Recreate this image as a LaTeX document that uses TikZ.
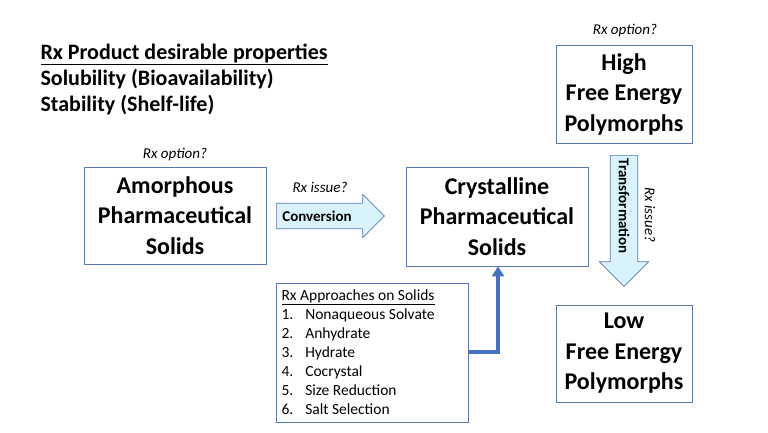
\documentclass[tikz,border=0pt]{standalone}
\usepackage{fontspec}
\setmainfont{Carlito}
\usetikzlibrary{shapes.arrows,arrows.meta}
\definecolor{bl}{RGB}{68,114,196}
\definecolor{bord}{RGB}{90,120,180}
\begin{document}
\begin{tikzpicture}[x=1pt,y=-1pt,
 box/.style={draw=bord,line width=0.8pt,align=center,font=\bfseries\fontsize{24}{30.5}\selectfont,inner sep=0pt},
 note/.style={font=\itshape\fontsize{15}{17}\selectfont},
 fat/.style={shape=single arrow,draw=bord,fill=cyan!15,line width=0.7pt,single arrow head extend=9pt,inner xsep=2pt,inner ysep=7pt,minimum height=108pt,font=\bfseries\fontsize{15}{16}\selectfont}]
\useasboundingbox (0,0) rectangle (768,433);
\node[box,minimum width=182pt,minimum height=97pt] (amo) at (175,215.5) {Amorphous\\Pharmaceutical\\Solids};
\node[box,minimum width=182pt,minimum height=99pt] (cry) at (497,216.5) {Crystalline\\Pharmaceutical\\Solids};
\node[box,minimum width=136pt,minimum height=98pt] (high) at (624,94) {High\\Free Energy\\Polymorphs};
\node[box,minimum width=136pt,minimum height=97pt] (low) at (624,353.5) {Low\\Free Energy\\Polymorphs};
\node[draw=bord,line width=0.8pt,minimum width=192pt,minimum height=139pt,anchor=north west,inner sep=0pt] (rx) at (276,283) {};
\node[anchor=north west,align=left,font=\fontsize{15.5}{19}\selectfont] (rxt) at (278,286) {\underline{Rx Approaches on Solids}\\
1.\hspace{12pt}Nonaqueous Solvate\\2.\hspace{12pt}Anhydrate\\3.\hspace{12pt}Hydrate\\4.\hspace{12pt}Cocrystal\\5.\hspace{12pt}Size Reduction\\6.\hspace{12pt}Salt Selection};
\node[fat,anchor=west] (conv) at (276,216) {\hspace{-14pt}Conversion};
\node[fat,rotate=-90,minimum height=131pt,anchor=west,single arrow head extend=11pt,inner ysep=8pt] (trans) at (624,155) {\hspace{-16pt}Transformation};
\node[note] (o1) at (175,155) {Rx option?};
\node[note] (o2) at (625,31) {Rx option?};
\node[note] (i1) at (320,187) {Rx issue?};
\node[note,rotate=-90] (i2) at (650,215) {Rx issue?};
\node[anchor=north west,align=left,font=\bfseries\fontsize{22}{26}\selectfont] (title) at (37,40) {\underline{Rx Product desirable properties}\\Solubility (Bioavailability)\\Stability (Shelf-life)};
\coordinate (c1) at (498,352);
\draw[line width=3.5pt,draw=bl,-{Triangle[length=10pt,width=12pt]}] (rx.east|-c1) -- (c1) -- (c1|-cry.south);
\end{tikzpicture}
\end{document}
